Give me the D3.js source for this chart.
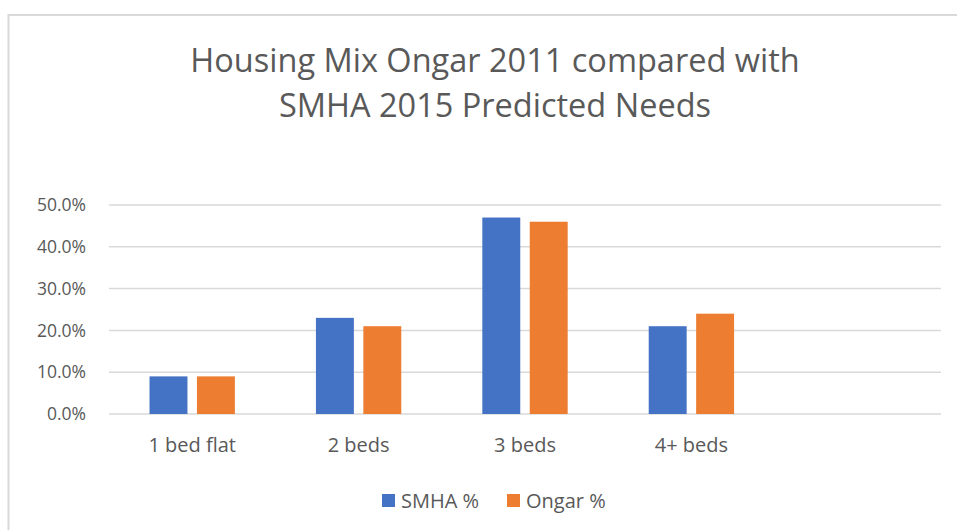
<!DOCTYPE html>
<html>
<head>
<meta charset="utf-8">
<script src="https://cdn.jsdelivr.net/npm/d3@7"></script>
<style>
  body { margin: 0; background: #fff; }
  text { font-family: "Open Sans", "Noto Sans", sans-serif; fill: #595959; }
</style>
</head>
<body>
<div id="chart"></div>
<script>
// data
const categories = ["1 bed flat", "2 beds", "3 beds", "4+ beds", ""];
const seriesNames = ["SMHA %", "Ongar %"];
const smha = [0.09, 0.23, 0.47, 0.21, null];
const ongar = [0.09, 0.21, 0.46, 0.24, null];
const yTicks = [0, 0.1, 0.2, 0.3, 0.4, 0.5];
const titleLines = ["Housing Mix Ongar 2011 compared with", "SMHA 2015 Predicted Needs"];
const colors = ["#4472C4", "#ED7D31"];

const W = 957, H = 530;
let margin = {top: 205, right: 16, bottom: 116, left: 109},
    width = W - margin.left - margin.right,
    height = H - margin.top - margin.bottom;

let svg = d3.select("#chart")
    .append("svg")
        .attr("width", W)
        .attr("height", H);

// chart area border (right/bottom edges fall outside the picture)
svg.append("rect")
    .attr("x", 8.5)
    .attr("y", 15)
    .attr("width", W + 20)
    .attr("height", H + 20)
    .attr("fill", "none")
    .attr("stroke", "#d9d9d9")
    .attr("stroke-width", 2);

// title
let title = svg.append("text")
    .attr("text-anchor", "middle")
    .attr("font-size", 32.5);
titleLines.forEach((t, i) => {
    title.append("tspan")
        .attr("x", 495)
        .attr("y", 72 + i * 45)
        .text(t);
});

let g = svg.append("g")
    .attr("transform", `translate(${margin.left},${margin.top})`);

let x0 = d3.scaleBand()
    .domain(categories)
    .range([0, width]);

let bw = x0.bandwidth();
let x1 = d3.scaleBand()
    .domain(seriesNames)
    .range([bw * 0.2435, bw * 0.7565])
    .paddingInner(0.2);

let y = d3.scaleLinear()
    .domain([0, 0.5])
    .range([height, 0]);

// gridlines
g.append("g")
    .selectAll("line")
    .data(yTicks)
    .join("line")
        .attr("x1", 0)
        .attr("x2", width)
        .attr("y1", d => y(d))
        .attr("y2", d => y(d))
        .attr("stroke", "#d9d9d9")
        .attr("stroke-width", 1.5);

// y labels
g.append("g")
    .selectAll("text")
    .data(yTicks)
    .join("text")
        .attr("x", -23)
        .attr("y", d => y(d))
        .attr("dy", "0.35em")
        .attr("text-anchor", "end")
        .attr("font-size", 17.5)
        .text(d => d3.format(".1%")(d));

// bars
let rows = categories.map((c, i) => ({cat: c, vals: [smha[i], ongar[i]]}));
let groups = g.append("g")
    .selectAll("g")
    .data(rows)
    .join("g")
        .attr("transform", d => `translate(${x0(d.cat)},0)`);

groups.selectAll("rect")
    .data(d => d.vals.map((v, j) => ({name: seriesNames[j], v: v, j: j})).filter(e => e.v != null))
    .join("rect")
        .attr("x", d => x1(d.name))
        .attr("width", x1.bandwidth())
        .attr("y", d => y(d.v))
        .attr("height", d => height - y(d.v))
        .attr("fill", d => colors[d.j]);

// category labels
g.append("g")
    .selectAll("text")
    .data(categories)
    .join("text")
        .attr("x", d => x0(d) + bw / 2)
        .attr("y", height + 31)
        .attr("dy", "0.35em")
        .attr("text-anchor", "middle")
        .attr("font-size", 20)
        .text(d => d);

// legend
let legendX = [382, 507];
let legend = svg.append("g")
    .selectAll("g")
    .data(seriesNames)
    .join("g")
        .attr("transform", (d, i) => `translate(${legendX[i]},494)`);

legend.append("rect")
    .attr("width", 13)
    .attr("height", 13)
    .attr("fill", (d, i) => colors[i]);

legend.append("text")
    .attr("x", 19)
    .attr("y", 6.5)
    .attr("dy", "0.35em")
    .attr("font-size", 20)
    .text(d => d);
</script>
</body>
</html>
